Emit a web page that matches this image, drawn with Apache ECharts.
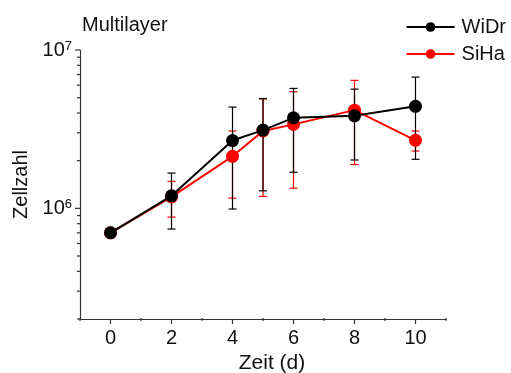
<!DOCTYPE html>
<html>
<head>
<meta charset="utf-8">
<script src="https://cdn.jsdelivr.net/npm/echarts@6/dist/echarts.min.js"></script>
<style>
  html, body { margin: 0; padding: 0; background: #fff; }
  #chart { width: 511px; height: 373px; }
</style>
</head>
<body>
<div id="chart"></div>
<script>
// Growth curves: cell count over time for two cell lines (multilayer culture)
const days = [0, 2, 4, 5, 6, 8, 10];

const widrMean = [7.0e5, 1.20e6, 2.68e6, 3.12e6, 3.73e6, 3.84e6, 4.41e6];
const widrLow  = [null,  7.4e5,  9.9e5,  1.29e6, 1.69e6, 2.02e6, 2.04e6];
const widrHigh = [null,  1.67e6, 4.36e6, 4.94e6, 5.72e6, 5.66e6, 6.74e6];

const sihaMean = [7.0e5, 1.18e6, 2.13e6, 3.08e6, 3.39e6, 4.17e6, 2.69e6];
const sihaLow  = [null,  8.8e5,  1.16e6, 1.19e6, 1.34e6, 1.89e6, 2.30e6];
const sihaHigh = [null,  1.48e6, 3.08e6, 4.90e6, 5.45e6, 6.43e6, 3.08e6];

// Axis ranges and tick positions
const xMin = -1, xMax = 11;
const yMin = 2e5, yMax = 1e7;
const xMajorTicks = [0, 2, 4, 6, 8, 10];
const xMinorTicks = [-1, 1, 3, 5, 7, 9, 11];
const yMajorTicks = [1e6, 1e7];
const yMinorTicks = [2e5, 3e5, 4e5, 5e5, 6e5, 7e5, 8e5, 9e5,
                     2e6, 3e6, 4e6, 5e6, 6e6, 7e6, 8e6, 9e6];

const FONT = '"Liberation Sans", Arial, sans-serif';

function pairs(xs, ys) {
  return xs.map((x, i) => [x, ys[i]]);
}

function errorData(low, high) {
  const out = [];
  days.forEach((d, i) => {
    if (low[i] != null && high[i] != null) out.push([d, low[i], high[i]]);
  });
  return out;
}

function errorSeries(name, low, high, color, z) {
  return {
    type: 'custom',
    name: name,
    silent: true,
    z: z,
    data: errorData(low, high),
    renderItem: function (params, api) {
      const x = api.value(0);
      const lo = api.coord([x, api.value(1)]);
      const hi = api.coord([x, api.value(2)]);
      const half = 4;
      const style = { stroke: color, lineWidth: 1.2 };
      return {
        type: 'group',
        children: [
          { type: 'line', shape: { x1: lo[0], y1: lo[1], x2: hi[0], y2: hi[1] }, style: style },
          { type: 'line', shape: { x1: lo[0] - half, y1: lo[1], x2: lo[0] + half, y2: lo[1] }, style: style },
          { type: 'line', shape: { x1: hi[0] - half, y1: hi[1], x2: hi[0] + half, y2: hi[1] }, style: style }
        ]
      };
    }
  };
}

// Tick marks drawn through the axis scales (major longer than minor)
const tickData = []
  .concat(xMajorTicks.map(v => [v, yMin, 0]))
  .concat(xMinorTicks.map(v => [v, yMin, 1]))
  .concat(yMajorTicks.map(v => [xMin, v, 2]))
  .concat(yMinorTicks.map(v => [xMin, v, 3]));

const tickSeries = {
  type: 'custom',
  silent: true,
  clip: false,
  z: 1,
  data: tickData,
  renderItem: function (params, api) {
    const p = api.coord([api.value(0), api.value(1)]);
    const kind = api.value(2);
    let shape;
    if (kind === 0) shape = { x1: p[0], y1: p[1], x2: p[0], y2: p[1] + 5 };
    else if (kind === 1) shape = { x1: p[0], y1: p[1] - 1, x2: p[0], y2: p[1] + 2 };
    else if (kind === 2) shape = { x1: p[0] - 5, y1: p[1], x2: p[0], y2: p[1] };
    else shape = { x1: p[0] - 3, y1: p[1], x2: p[0] + 1, y2: p[1] };
    return { type: 'line', shape: shape, style: { stroke: '#333', lineWidth: 1.2 } };
  }
};

const chart = echarts.init(document.getElementById('chart'), null, { renderer: 'canvas' });

chart.setOption({
  animation: false,
  backgroundColor: '#fff',
  textStyle: { fontFamily: FONT },
  title: {
    text: 'Multilayer',
    left: 77,
    top: 10,
    textStyle: { fontFamily: FONT, fontSize: 20, fontWeight: 'normal', color: '#111' }
  },
  legend: {
    data: ['WiDr', 'SiHa'],
    orient: 'vertical',
    right: 0,
    top: 12,
    itemWidth: 48,
    itemHeight: 12,
    itemGap: 7,
    textStyle: { fontFamily: FONT, fontSize: 20, color: '#111', padding: [0, 0, 0, 2] }
  },
  grid: { left: 80, right: 65, top: 50, bottom: 54, outerBoundsMode: 'none' },
  xAxis: {
    type: 'value',
    min: xMin,
    max: xMax,
    interval: 1,
    name: 'Zeit (d)',
    nameLocation: 'middle',
    nameGap: 32,
    nameTextStyle: { fontFamily: FONT, fontSize: 21, color: '#111', padding: [0, 0, 0, 18] },
    axisLine: { onZero: false, lineStyle: { color: '#333', width: 1.2 } },
    axisTick: { show: false },
    splitLine: { show: false },
    axisLabel: {
      margin: 9,
      fontFamily: FONT,
      fontSize: 20,
      color: '#111',
      formatter: v => (xMajorTicks.indexOf(v) >= 0 ? String(v) : '')
    }
  },
  yAxis: {
    type: 'log',
    logBase: 10,
    min: yMin,
    max: yMax,
    name: 'Zellzahl',
    nameLocation: 'middle',
    nameGap: 48,
    nameTextStyle: { fontFamily: FONT, fontSize: 20, color: '#111' },
    axisLine: { show: true, onZero: false, lineStyle: { color: '#333', width: 1.2 } },
    axisTick: { show: false },
    splitLine: { show: false },
    axisLabel: {
      margin: 8,
      fontFamily: FONT,
      color: '#111',
      formatter: function (v) {
        const e = Math.round(Math.log10(v));
        if (Math.abs(Math.log10(v) - e) > 1e-6) return '';
        return '{b|10}{s|' + e + '}';
      },
      rich: {
        b: { fontFamily: FONT, fontSize: 20, color: '#111' },
        s: { fontFamily: FONT, fontSize: 13, color: '#111', verticalAlign: 'top', padding: [0, 0, 6, 0] }
      }
    }
  },
  series: [
    tickSeries,
    errorSeries('SiHa-err', sihaLow, sihaHigh, '#ff0000', 2),
    errorSeries('WiDr-err', widrLow, widrHigh, '#000000', 3),
    {
      name: 'SiHa',
      type: 'line',
      z: 4,
      data: pairs(days, sihaMean),
      symbol: 'circle',
      symbolSize: 13,
      lineStyle: { color: '#ff0000', width: 2 },
      itemStyle: { color: '#ff0000' }
    },
    {
      name: 'WiDr',
      type: 'line',
      z: 5,
      data: pairs(days, widrMean),
      symbol: 'circle',
      symbolSize: 13,
      lineStyle: { color: '#000000', width: 2 },
      itemStyle: { color: '#000000' }
    }
  ]
});
</script>
</body>
</html>
